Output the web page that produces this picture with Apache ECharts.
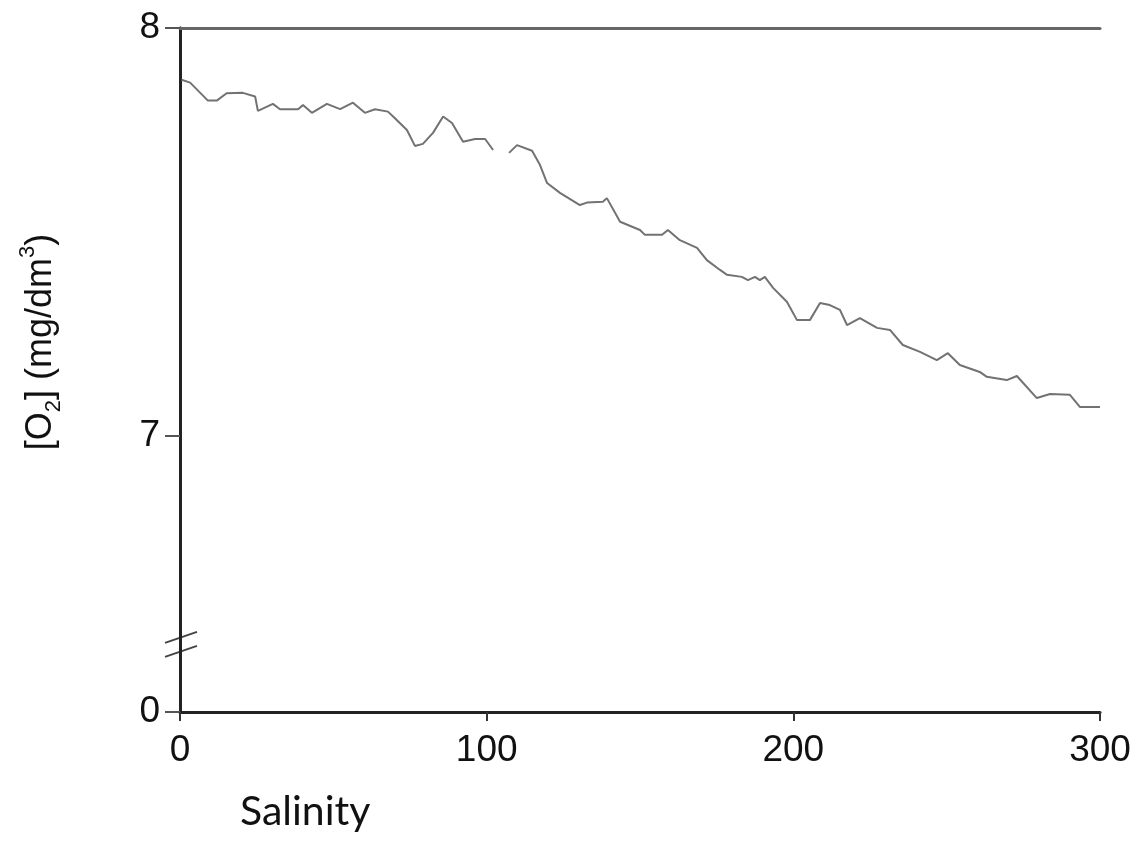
<!DOCTYPE html>
<html>
<head>
<meta charset="utf-8">
<title>O2 vs salinity</title>
<script src="https://cdn.jsdelivr.net/npm/echarts@6/dist/echarts.min.js"></script>
<style>
  html, body { margin: 0; padding: 0; background: #fff; }
  #chart { width: 1141px; height: 856px; }
</style>
</head>
<body>
<div id="chart"></div>
<script>
// salinity (x) and dissolved oxygen (mg/dm3); null = gap in the record
var salinity = [0.5, 3.3, 9.1, 12.0, 15.2, 20.5, 24.5, 25.4, 30.3, 32.6, 38.5, 40.1, 43.0, 47.9, 52.2, 56.4, 60.3, 63.6, 67.8, 69.5,
  74.0, 76.6, 79.2, 82.5, 85.8, 88.7, 92.3, 96.2, 99.5, 102.1, 104.5, 107.3, 109.9, 114.8, 117.4, 119.7, 123.9, 130.4, 132.7, 137.9,
  139.2, 143.5, 150.0, 151.6, 157.2, 159.1, 163.0, 168.6, 171.8, 176.1, 178.4, 183.2, 185.2, 187.5, 189.1, 190.7, 193.4, 197.9,
  201.2, 205.4, 208.7, 211.9, 215.2, 217.5, 221.7, 227.3, 231.5, 235.7, 241.3, 246.8, 250.4, 254.3, 260.8, 263.1, 269.6, 272.9,
  279.4, 283.7, 290.2, 293.5, 300.0]
var o2 = [7.873, 7.866, 7.822, 7.822, 7.840, 7.841, 7.832, 7.797, 7.814, 7.801, 7.801, 7.811, 7.792, 7.814, 7.801, 7.817, 7.792, 7.801, 7.795, 7.783,
  7.750, 7.711, 7.716, 7.743, 7.783, 7.767, 7.721, 7.728, 7.728, 7.701, null, 7.694, 7.713, 7.699, 7.664, 7.620, 7.596, 7.566, 7.572, 7.574,
  7.583, 7.525, 7.505, 7.493, 7.493, 7.505, 7.480, 7.461, 7.431, 7.407, 7.395, 7.390, 7.382, 7.390, 7.382, 7.390, 7.363, 7.329,
  7.284, 7.284, 7.326, 7.321, 7.309, 7.272, 7.289, 7.265, 7.260, 7.223, 7.206, 7.186, 7.203, 7.174, 7.157, 7.145, 7.137, 7.147,
  7.093, 7.103, 7.101, 7.071, 7.071]
var xTicks = [0, 100, 200, 300]
// the axis is broken: the stretch below 7 is squeezed, "0" sits at yZero on the drawn scale
var yZero = 6.3235
var yBreak = 6.488
var yTicks = [yZero, 7, 8]

var points = salinity.map(function (s, i) {
  return [s, o2[i]]
})

var sansFont = 'Arial, "Liberation Sans", sans-serif'
var labelFont = {
  fontFamily: sansFont,
  fontSize: 37,
  color: '#111'
}

var chart = echarts.init(document.getElementById('chart'))
chart.setOption({
  animation: false,
  backgroundColor: '#fff',
  title: {
    text: 'Salinity',
    left: 235,
    top: 786,
    textStyle: {
      fontFamily: 'Lato',
      fontSize: 41,
      fontWeight: 'normal',
      color: '#111'
    }
  },
  grid: {
    left: 180,
    right: 41,
    top: 28,
    bottom: 144
  },
  xAxis: [
    {
      type: 'value',
      min: 0,
      max: 300,
      interval: 100,
      splitLine: { show: false },
      axisLine: { lineStyle: { color: '#222', width: 3 } },
      axisTick: { length: 9, lineStyle: { color: '#333', width: 2 } },
      axisLabel: Object.assign({ margin: 20 }, labelFont)
    },
    {
      type: 'value',
      position: 'top',
      min: 0,
      max: 300,
      splitLine: { show: false },
      axisLine: { lineStyle: { color: '#666', width: 3 } },
      axisTick: { show: false },
      axisLabel: { show: false }
    }
  ],
  yAxis: [
    {
      type: 'value',
      min: yZero,
      max: 8,
      splitLine: { show: false },
      axisLine: { lineStyle: { color: '#666', width: 3 } },
      axisTick: {
        length: 15,
        customValues: yTicks,
        lineStyle: { color: '#555', width: 2 }
      },
      axisLabel: Object.assign({
        margin: 20,
        customValues: yTicks,
        formatter: function (v) {
          return v < 6.9 ? '0' : String(Math.round(v))
        }
      }, labelFont),
      name: '[O{sub|2}] (mg/dm{sup|3})',
      nameLocation: 'middle',
      nameRotate: 90,
      nameGap: 115,
      nameTextStyle: {
        fontFamily: sansFont,
        fontSize: 36,
        color: '#111',
        lineHeight: 48,
        padding: [0, 0, 0, 56],
        rich: {
          sub: { fontSize: 22, lineHeight: 22, verticalAlign: 'bottom', fontFamily: sansFont, color: '#111' },
          sup: { fontSize: 22, lineHeight: 22, verticalAlign: 'top', fontFamily: sansFont, color: '#111' }
        }
      }
    },
    {
      type: 'value',
      position: 'right',
      min: yZero,
      max: 8,
      splitLine: { show: false },
      axisLine: { lineStyle: { color: '#222', width: 3 } },
      axisTick: { show: false },
      axisLabel: { show: false }
    }
  ],
  series: [
    {
      type: 'line',
      data: points,
      showSymbol: false,
      connectNulls: false,
      lineStyle: { color: '#727272', width: 2 }
    }
  ]
})

// little "//" break mark on the left axis
var bx = chart.convertToPixel({ xAxisIndex: 0 }, 0)
var by = chart.convertToPixel({ yAxisIndex: 0 }, yBreak)
chart.setOption({
  graphic: [
    {
      type: 'line',
      shape: { x1: bx - 15, y1: by - 2, x2: bx + 17, y2: by - 13 },
      style: { stroke: '#444', lineWidth: 2 }
    },
    {
      type: 'line',
      shape: { x1: bx - 15, y1: by + 12, x2: bx + 17, y2: by + 1 },
      style: { stroke: '#444', lineWidth: 2 }
    }
  ]
})
</script>
</body>
</html>
